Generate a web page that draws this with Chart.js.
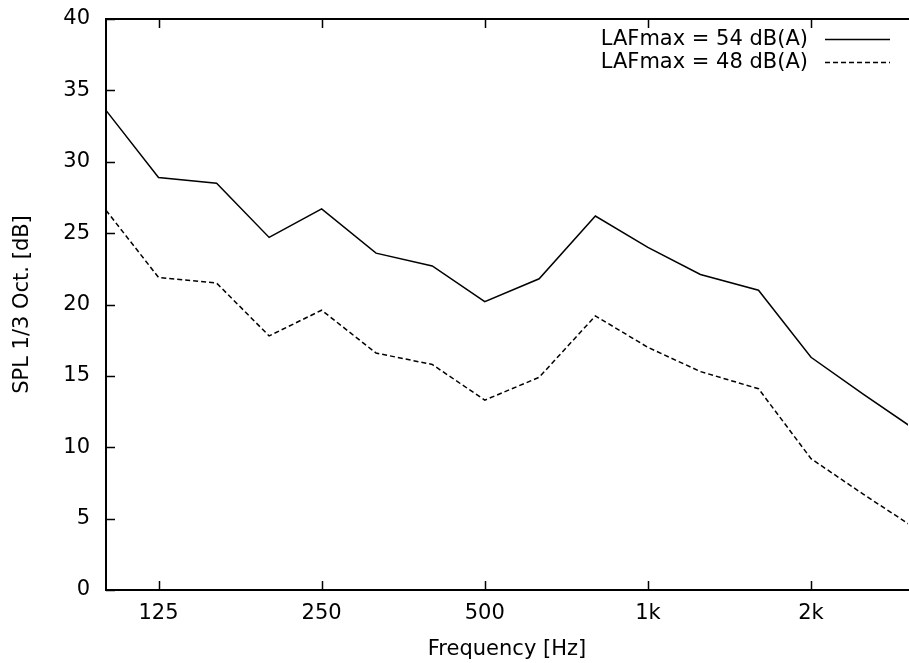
<!DOCTYPE html>
<html>
<head>
<meta charset="utf-8">
<script src="https://cdn.jsdelivr.net/npm/chart.js@4/dist/chart.umd.min.js"></script>
<style>
  html, body { margin: 0; padding: 0; background: #fff; overflow: hidden; }
  canvas { display: block; }
</style>
</head>
<body>
<canvas id="splChart" width="909" height="663"></canvas>
<script>
// 1/3 octave band centre frequencies (Hz)
const freqs = [100, 125, 160, 200, 250, 315, 400, 500, 630, 800, 1000, 1250, 1600, 2000, 2500, 3150];
// SPL per band, dB
const spl54 = [33.6, 28.9, 28.5, 24.7, 26.7, 23.6, 22.7, 20.2, 21.8, 26.2, 24.0, 22.1, 21.0, 16.3, 13.7, 11.1];
const spl48 = [26.6, 21.9, 21.5, 17.8, 19.6, 16.6, 15.8, 13.3, 14.9, 19.2, 17.0, 15.3, 14.1, 9.2, 6.7, 4.2];
const seriesLabels = ["LAFmax = 54 dB(A)", "LAFmax = 48 dB(A)"];
// x tick marks and their labels
const tickFreqs = [125, 250, 500, 1000, 2000];
const tickLabels = ["125", "250", "500", "1k", "2k"];

const FONT = "'DejaVu Sans', sans-serif";
const FSIZE = 21;

function toPoints(ys) {
  return freqs.map((f, i) => ({ x: f, y: ys[i] }));
}

// gnuplot-like frame: inward ticks, top border, legend with text before line sample
const framePlugin = {
  id: "frame",
  afterDraw(chart) {
    const ctx = chart.ctx;
    const area = chart.chartArea;
    const xs = chart.scales.x;
    const ys = chart.scales.y;
    ctx.save();
    ctx.strokeStyle = "#000";
    ctx.lineWidth = 2;
    ctx.beginPath();
    ctx.moveTo(area.left - 1, area.top);
    ctx.lineTo(chart.width, area.top);
    ctx.stroke();

    ctx.lineWidth = 1.5;
    ctx.beginPath();
    tickFreqs.forEach(v => {
      const px = Math.round(xs.getPixelForValue(v)) + 0.5;
      ctx.moveTo(px, area.bottom);
      ctx.lineTo(px, area.bottom - 9);
      ctx.moveTo(px, area.top);
      ctx.lineTo(px, area.top + 9);
    });
    ys.ticks.forEach(t => {
      const py = Math.round(ys.getPixelForValue(t.value)) + 0.5;
      ctx.moveTo(area.left, py);
      ctx.lineTo(area.left + 9, py);
    });
    ctx.stroke();

    // legend
    ctx.font = FSIZE + "px " + FONT;
    ctx.fillStyle = "#000";
    ctx.textAlign = "right";
    ctx.textBaseline = "middle";
    chart.data.datasets.forEach((ds, i) => {
      const y = 39 + i * 23;
      ctx.fillText(ds.label, 808, y + 1);
      ctx.lineWidth = 1.3;
      ctx.setLineDash(ds.borderDash || []);
      ctx.beginPath();
      ctx.moveTo(825, y + 0.5);
      ctx.lineTo(890, y + 0.5);
      ctx.stroke();
    });
    ctx.restore();
  }
};

const splConfig = {
  type: "line",
  data: {
    datasets: [
      {
        label: seriesLabels[0],
        data: toPoints(spl54),
        borderColor: "#000",
        borderWidth: 1.5,
        pointRadius: 0,
        tension: 0,
      },
      {
        label: seriesLabels[1],
        data: toPoints(spl48),
        borderColor: "#000",
        borderWidth: 1.5,
        borderDash: [5, 3],
        pointRadius: 0,
        tension: 0,
      },
    ],
  },
  options: {
    responsive: false,
    animation: false,
    devicePixelRatio: 1,
    layout: { padding: { top: 19, right: 1, left: 0, bottom: 0 } },
    plugins: {
      legend: { display: false },
      tooltip: { enabled: false },
    },
    scales: {
      x: {
        type: "logarithmic",
        position: "bottom",
        min: 100,
        max: 3020,
        grid: { display: false, drawTicks: false },
        border: { display: true, color: "#000", width: 2 },
        afterBuildTicks: s => { s.ticks = tickFreqs.map(v => ({ value: v })); },
        afterFit: s => { s.height = 73; s.paddingLeft = 0; s.paddingRight = 0; },
        ticks: {
          autoSkip: false,
          maxRotation: 0,
          padding: 11,
          color: "#000",
          font: { family: FONT, size: FSIZE },
          callback: v => tickLabels[tickFreqs.indexOf(v)],
        },
        title: {
          display: true,
          text: "Frequency [Hz]",
          color: "#000",
          font: { family: FONT, size: FSIZE },
          padding: { top: 0, bottom: 0.5 },
        },
      },
      y: {
        min: 0,
        max: 40,
        grid: { display: false, drawTicks: false },
        border: { display: true, color: "#000", width: 2 },
        afterFit: s => { s.width = 106; s.paddingTop = 0; s.paddingBottom = 0; },
        ticks: {
          stepSize: 5,
          padding: 16,
          color: "#000",
          font: { family: FONT, size: FSIZE },
        },
        title: {
          display: true,
          text: "SPL 1/3 Oct. [dB]",
          color: "#000",
          font: { family: FONT, size: FSIZE },
          padding: { top: 10, bottom: 0 },
        },
      },
    },
  },
  plugins: [framePlugin],
};

const splCtx = document.getElementById("splChart").getContext("2d");
const splChart = new Chart(splCtx, splConfig);
</script>
</body>
</html>
